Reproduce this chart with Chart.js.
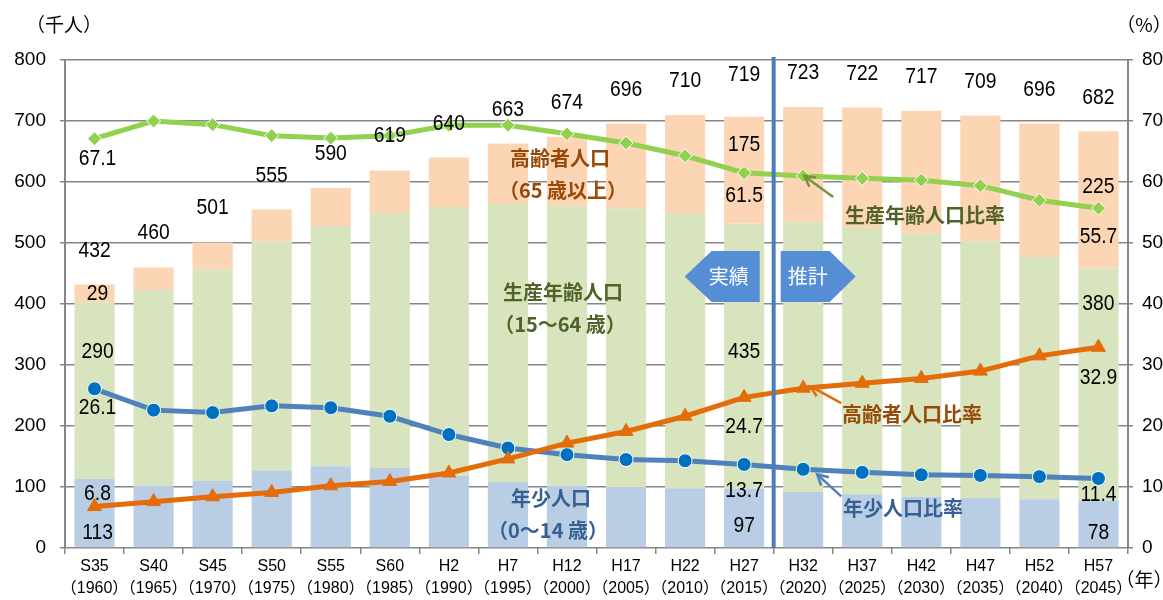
<!DOCTYPE html>
<html><head><meta charset="utf-8">
<script src="https://cdn.jsdelivr.net/npm/chart.js@4.4.1/dist/chart.umd.min.js"></script>
<style>html,body{margin:0;padding:0;background:#fff}#wrap{width:1163px;height:600px;position:relative}</style>
</head><body><div id="wrap"><canvas id="c" width="1163" height="600"></canvas></div>
<script>
const categories = ['S35','S40','S45','S50','S55','S60','H2','H7','H12','H17','H22','H27','H32','H37','H42','H47','H52','H57'];
const yearLabels = ['1960','1965','1970','1975','1980','1985','1990','1995','2000','2005','2010','2015','2020','2025','2030','2035','2040','2045'];
const childPop   = [113,102,110,127,134,131,118,108,102,100,98,97,92,88,84,82,80,78];
const workingPop = [290,321,347,375,394,418,441,456,459,457,451,435,442,438,432,421,397,380];
const elderlyPop = [29,37,44,53,62,70,81,99,113,139,161,175,189,196,201,206,219,225];
const totalPop   = [432,460,501,555,590,619,640,663,674,696,710,719,723,722,717,709,696,682];
const workingRatio = [67.1,70.0,69.4,67.6,67.2,67.6,69.3,69.3,67.9,66.4,64.3,61.5,61.0,60.6,60.3,59.4,57.0,55.7];
const elderlyRatio = [6.8,7.6,8.4,9.1,10.2,10.9,12.3,14.6,17.2,19.1,21.6,24.7,26.2,27.0,27.8,29.0,31.5,32.9];
const childRatio   = [26.1,22.6,22.2,23.3,23.0,21.6,18.6,16.4,15.3,14.5,14.3,13.7,12.9,12.4,12.0,11.9,11.7,11.4];
const leftTicks = [0,100,200,300,400,500,600,700,800];
const rightTicks = [0,10,20,30,40,50,60,70,80];
const labelledIdx = [0, 11, 17];
const lastActualIdx = 11;

const NUM = '"Liberation Sans", "Noto Sans CJK JP", Arial, sans-serif';
const JP = '"Noto Sans CJK JP", sans-serif';

// label placement (pixel offsets), separate from data
const offs = {
  child:   [-15,-22,-15],
  working: [50,128,35],
  elderly: [9,28,56],
  wr: [20,23,29],
  cr: [19,26,16],
  er: [-13,30,31]
};

const overlay = {
  id:'overlay',
  afterDatasetsDraw(chart){
    const ctx = chart.ctx, xs = chart.scales.x, ys = chart.scales.y, y1 = chart.scales.y1;
    ctx.save();
    // divider line
    const dx = (xs.getPixelForValue(lastActualIdx) + xs.getPixelForValue(lastActualIdx+1))/2;
    ctx.strokeStyle = '#4a7ebb'; ctx.lineWidth = 4;
    ctx.beginPath(); ctx.moveTo(dx, ys.getPixelForValue(800)-3); ctx.lineTo(dx, ys.getPixelForValue(0)); ctx.stroke();
    // pentagons
    ctx.fillStyle = '#558ed5';
    const t = 251, b = 302, m = (t+b)/2;
    ctx.beginPath(); ctx.moveTo(dx-89,m); ctx.lineTo(dx-62,t); ctx.lineTo(dx-14,t); ctx.lineTo(dx-14,b); ctx.lineTo(dx-62,b); ctx.closePath(); ctx.fill();
    ctx.beginPath(); ctx.moveTo(dx+7,t); ctx.lineTo(dx+56,t); ctx.lineTo(dx+82,m); ctx.lineTo(dx+56,b); ctx.lineTo(dx+7,b); ctx.closePath(); ctx.fill();
    ctx.fillStyle = '#fff'; ctx.font = '20px ' + JP; ctx.textAlign='center'; ctx.textBaseline='middle';
    ctx.fillText('実績', dx-45, m); ctx.fillText('推計', dx+34, m);

    // number labels (slightly condensed, tall digits)
    function num(txt, x, y){
      ctx.save(); ctx.translate(x, y); ctx.scale(0.92, 1.05); ctx.fillText(txt, 0, 0); ctx.restore();
    }
    ctx.fillStyle = '#000'; ctx.font = '21px ' + NUM;
    totalPop.forEach((v,i)=>{
      num(String(v), xs.getPixelForValue(i), ys.getPixelForValue(v)-34);
    });
    labelledIdx.forEach((i,k)=>{
      const x = xs.getPixelForValue(i) + (k===0?3:0);
      num(String(childPop[i]), x, ys.getPixelForValue(0)+offs.child[k]);
      num(String(workingPop[i]), x, ys.getPixelForValue(childPop[i]+workingPop[i])+offs.working[k]);
      num(String(elderlyPop[i]), x, ys.getPixelForValue(childPop[i]+workingPop[i]+elderlyPop[i])+offs.elderly[k]);
      num(workingRatio[i].toFixed(1), x, y1.getPixelForValue(workingRatio[i])+offs.wr[k]);
      num(childRatio[i].toFixed(1), x, y1.getPixelForValue(childRatio[i])+offs.cr[k]);
      num(elderlyRatio[i].toFixed(1), x, y1.getPixelForValue(elderlyRatio[i])+offs.er[k]);
    });

    // category annotations
    ctx.font = 'bold 20px ' + JP;
    ctx.fillStyle = '#984807';
    ctx.fillText('高齢者人口', 560, 158); ctx.fillText('（65 歳以上）', 563, 190);
    ctx.fillStyle = '#4f6228';
    ctx.fillText('生産年齢人口', 563, 292); ctx.fillText('（15～64 歳）', 560, 324);
    ctx.fillStyle = '#376092';
    ctx.fillText('年少人口', 551, 498); ctx.fillText('（0～14 歳）', 548, 530);

    // ratio annotations with arrows
    const pi = lastActualIdx + 1, px = xs.getPixelForValue(pi);
    function arrow(tipX, tipY, tailX, tailY, col){
      ctx.strokeStyle = col; ctx.lineWidth = 2.5;
      ctx.beginPath(); ctx.moveTo(tailX, tailY); ctx.lineTo(tipX, tipY); ctx.stroke();
      const a = Math.atan2(tipY-tailY, tipX-tailX), L = 12;
      ctx.beginPath();
      ctx.moveTo(tipX - L*Math.cos(a-0.5), tipY - L*Math.sin(a-0.5));
      ctx.lineTo(tipX, tipY);
      ctx.lineTo(tipX - L*Math.cos(a+0.5), tipY - L*Math.sin(a+0.5));
      ctx.stroke();
    }
    arrow(px+1, y1.getPixelForValue(workingRatio[pi])+0, px+30, y1.getPixelForValue(workingRatio[pi])+21, '#77933c');
    arrow(px+7, y1.getPixelForValue(elderlyRatio[pi])-2, px+38, y1.getPixelForValue(elderlyRatio[pi])+15, '#e46c0a');
    arrow(px+14, y1.getPixelForValue(childRatio[pi])+5, px+38, y1.getPixelForValue(childRatio[pi])+27, '#4f81bd');
    ctx.textAlign = 'left';
    ctx.fillStyle = '#4f6228'; ctx.fillText('生産年齢人口比率', 845, 215);
    ctx.fillStyle = '#984807'; ctx.fillText('高齢者人口比率', 842, 414);
    ctx.fillStyle = '#376092'; ctx.fillText('年少人口比率', 843, 508);

    // axis titles
    ctx.fillStyle = '#000'; ctx.font = '19px ' + JP; ctx.textAlign='center';
    ctx.fillText('（千人）', 64, 25);
    ctx.fillText('（%）', 1144, 25);
    ctx.fillText('（年）', 1144, 580);
    ctx.restore();
  }
};

new Chart(document.getElementById('c'), {
  data: {
    labels: categories.map((c,i)=>[c, '（'+yearLabels[i]+'）']),
    datasets: [
      {type:'line', label:'生産年齢人口比率', data:workingRatio, yAxisID:'y1', order:0,
       borderColor:'#92d050', borderWidth:5, pointStyle:'rectRot', pointRadius:7,
       pointBackgroundColor:'#92d050', pointBorderColor:'#fff', pointBorderWidth:1, tension:0},
      {type:'line', label:'高齢者人口比率', data:elderlyRatio, yAxisID:'y1', order:0,
       borderColor:'#e46c0a', borderWidth:5, pointStyle:'triangle', pointRadius:8,
       pointBackgroundColor:'#e46c0a', pointBorderColor:'#e46c0a', pointBorderWidth:1, tension:0},
      {type:'line', label:'年少人口比率', data:childRatio, yAxisID:'y1', order:0,
       borderColor:'#4f81bd', borderWidth:5, pointStyle:'circle', pointRadius:7,
       pointBackgroundColor:'#0070c0', pointBorderColor:'#fff', pointBorderWidth:1, tension:0},
      {type:'bar', label:'年少人口', data:childPop, backgroundColor:'#b9cde5', yAxisID:'y', order:1, stack:'p'},
      {type:'bar', label:'生産年齢人口', data:workingPop, backgroundColor:'#d7e4bd', yAxisID:'y', order:1, stack:'p'},
      {type:'bar', label:'高齢者人口', data:elderlyPop, backgroundColor:'#fcd5b5', yAxisID:'y', order:1, stack:'p'}
    ]
  },
  options: {
    responsive:false, animation:false, devicePixelRatio:1,
    layout:{padding:{top:60,left:0,right:0,bottom:0}},
    datasets:{bar:{barPercentage:0.68, categoryPercentage:1}},
    plugins:{legend:{display:false}, tooltip:{enabled:false}},
    scales:{
      x:{stacked:true, offset:true,
         grid:{display:true, offset:true, drawOnChartArea:false, drawTicks:true, tickLength:6, color:'#868686', lineWidth:1.5},
         border:{display:false},
         ticks:{font:{family:NUM, size:16, lineHeight:1.35}, color:'#000', padding:2, maxRotation:0, autoSkip:false},
         afterFit(s){s.height=52;}},
      y:{stacked:true, min:0, max:800, position:'left',
         afterBuildTicks(s){s.ticks = leftTicks.map(v=>({value:v}));},
         ticks:{font:{family:NUM, size:19}, color:'#000', padding:14},
         grid:{color:'#868686', lineWidth:1.5, tickLength:5},
         border:{display:true, color:'#868686', width:2},
         afterFit(s){s.width=65;}},
      y1:{min:0, max:80, position:'right',
         afterBuildTicks(s){s.ticks = rightTicks.map(v=>({value:v}));},
         ticks:{font:{family:NUM, size:19}, color:'#000', padding:9},
         grid:{drawOnChartArea:false, color:'#868686', lineWidth:1.5, tickLength:5},
         border:{display:true, color:'#868686', width:2},
         afterFit(s){s.width=35;}}
    }
  },
  plugins:[overlay]
});
</script>
</body></html>
